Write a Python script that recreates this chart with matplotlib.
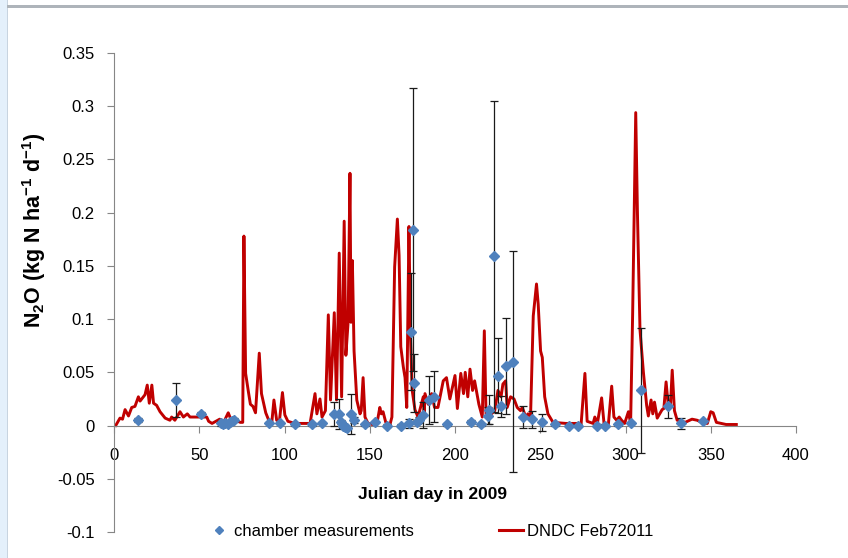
import matplotlib
matplotlib.use('Agg')
import matplotlib.pyplot as plt
from matplotlib.lines import Line2D
from matplotlib.patches import Rectangle

plt.rcParams['font.family'] = ['Liberation Sans', 'DejaVu Sans']
plt.rcParams['mathtext.fontset'] = 'custom'
plt.rcParams['mathtext.rm'] = 'Liberation Sans'
plt.rcParams['mathtext.bf'] = 'Liberation Sans:bold'

# DNDC model run (Julian day, kg N ha-1 d-1)
dndc_day = [1, 3.5, 5, 6.5, 8.5, 10.4, 12.3, 14.3, 15.3, 18.2, 19.5, 20.7, 22.2, 23.2, 25, 27, 30,
            32.8, 33.8, 35.7, 38.7, 40.7, 43, 44.6, 50, 54.4, 55.5, 57.5, 62, 64, 67, 69, 72, 74,
            75.5, 76.2, 77.2, 78.8, 80, 81.5, 83, 85.2, 86.5, 89, 91, 92.5, 93.8, 95.4, 97, 98.8,
            100.2, 102, 106, 110, 115, 117.9, 119, 120.8, 122, 124, 125.7, 127, 129.2, 130.5,
            132.1, 133.5, 135, 136, 137.3, 138.4, 139, 139.8, 140.8, 142.4, 144.3, 145, 146.1,
            147.2, 149, 154, 155.9, 156.8, 157.8, 159.4, 161.7, 163, 164.6, 166.2, 167.2, 168.2,
            169.7, 170.7, 171.7, 173, 173.9, 174.9, 176.5, 178.3, 181.4, 181.9, 182.4, 184.3,
            186.3, 188, 190, 193.1, 195, 197, 200, 201.4, 203.4, 205, 206, 207.5, 208.8, 210.3,
            211.5, 214, 216, 217.2, 218.2, 219.5, 223.3, 225.2, 227, 228.1, 229.7, 230.6, 232.6,
            234.6, 236.5, 238.4, 239.5, 241.5, 242.8, 244.3, 245.9, 247.8, 248.8, 250.2, 251.2,
            252.6, 254.5, 257.5, 265, 274, 276.2, 277.5, 281, 282, 283.5, 286, 287.4, 290, 291.9,
            293.2, 294.8, 296.3, 297.7, 299.5, 301.7, 303, 304.2, 306, 307, 308.5, 310.5, 312.4,
            313.4, 315, 316, 317, 318.6, 321.5, 322.5, 323.8, 325.2, 326.4, 327.4, 328.7, 330.3,
            335, 339, 342, 346, 348, 350, 351.4, 353.3, 359, 365]
dndc_n2o = [0.000, 0.007, 0.006, 0.015, 0.009, 0.017, 0.018, 0.027, 0.023, 0.029, 0.038, 0.021,
            0.038, 0.021, 0.019, 0.013, 0.007, 0.005, 0.008, 0.005, 0.013, 0.008, 0.011, 0.008,
            0.008, 0.008, 0.004, 0.002, 0.006, 0.002, 0.012, 0.004, 0.005, 0.003, 0.003, 0.178,
            0.049, 0.032, 0.020, 0.018, 0.012, 0.068, 0.030, 0.012, 0.004, 0.002, 0.024, 0.005,
            0.004, 0.031, 0.010, 0.004, 0.002, 0.002, 0.002, 0.030, 0.011, 0.025, 0.008, 0.014,
            0.104, 0.024, 0.106, 0.024, 0.162, 0.027, 0.192, 0.066, 0.097, 0.237, 0.097, 0.155,
            0.070, 0.024, 0.011, 0.014, 0.045, 0.008, 0.002, 0.000, 0.017, 0.011, 0.013, 0.003,
            0.000, 0.008, 0.149, 0.194, 0.160, 0.074, 0.055, 0.045, 0.017, 0.187, 0.083, 0.033,
            0.015, 0.008, 0.027, 0.010, 0.030, 0.020, 0.030, 0.017, 0.017, 0.042, 0.045, 0.025,
            0.047, 0.016, 0.049, 0.030, 0.050, 0.027, 0.053, 0.033, 0.042, 0.020, 0.008, 0.089,
            0.011, 0.008, 0.014, 0.033, 0.027, 0.039, 0.042, 0.017, 0.027, 0.025, 0.017, 0.014,
            0.017, 0.008, 0.011, 0.008, 0.103, 0.133, 0.114, 0.070, 0.064, 0.027, 0.011, 0.003,
            0.002, 0.002, 0.049, 0.004, 0.002, 0.008, 0.002, 0.026, 0.002, 0.002, 0.037, 0.008,
            0.005, 0.008, 0.005, 0.002, 0.013, 0.002, 0.106, 0.294, 0.200, 0.090, 0.050, 0.019,
            0.009, 0.024, 0.011, 0.022, 0.007, 0.015, 0.016, 0.041, 0.017, 0.020, 0.052, 0.014,
            0.005, 0.003, 0.006, 0.005, 0.002, 0.002, 0.013, 0.012, 0.003, 0.001, 0.001]

# chamber measurements with error bars
ch_day = [14.3, 36.3, 51, 62.5, 63.7, 65.3, 66.8, 68, 69, 70.5, 91, 97.3, 106, 116, 122.2, 129,
          132.1, 133.1, 134.3, 135.6, 136.6, 139.2, 140.9, 147.2, 153.2, 160.3, 168.1, 173,
          174.2, 175.6, 176.1, 177.6, 179, 181.2, 185, 187.9, 195.1, 209.2, 215, 219.2, 220, 223,
          225, 227, 229.9, 234, 240, 245.4, 251.2, 258.7, 267, 272.3, 283, 288, 295.4, 303.2,
          309.1, 325.1, 332.4, 345.3]
ch_n2o = [0.005, 0.024, 0.011, 0.002, 0.001, 0.002, 0.001, 0.003, 0.004, 0.005, 0.002, 0.002,
          0.001, 0.001, 0.002, 0.011, 0.011, 0.003, 0.000, -0.001, -0.002, 0.011, 0.005, 0.001,
          0.003, 0.000, 0.000, 0.002, 0.088, 0.184, 0.040, 0.003, 0.005, 0.010, 0.024, 0.027,
          0.001, 0.003, 0.001, 0.009, 0.015, 0.159, 0.047, 0.018, 0.056, 0.060, 0.008, 0.006,
          0.003, 0.001, 0.000, 0.000, 0.000, 0.000, 0.001, 0.002, 0.033, 0.018, 0.002, 0.004]
ch_err = [0.002, 0.016, 0.002, 0.002, 0.001, 0.001, 0.001, 0.002, 0.001, 0.002, 0.001, 0.001,
          0.001, 0.001, 0.001, 0.011, 0.014, 0.002, 0.002, 0.001, 0.001, 0.019, 0.003, 0.001,
          0.001, 0.001, 0.001, 0.004, 0.055, 0.133, 0.027, 0.002, 0.003, 0.012, 0.023, 0.024,
          0.001, 0.002, 0.001, 0.008, 0.014, 0.146, 0.035, 0.010, 0.045, 0.104, 0.010, 0.008,
          0.008, 0.001, 0.001, 0.001, 0.001, 0.001, 0.001, 0.001, 0.059, 0.011, 0.005, 0.001]

xticks = [0, 50, 100, 150, 200, 250, 300, 350, 400]
yticks = [0.35, 0.3, 0.25, 0.2, 0.15, 0.1, 0.05, 0, -0.05, -0.1]
ytick_labels = ['0.35', '0.3', '0.25', '0.2', '0.15', '0.1', '0.05', '0', '-0.05', '-0.1']

blue = '#4f81bd'
red = '#c00000'
axgray = '#868686'

fig = plt.figure(figsize=(8.48, 5.58), dpi=100)
W, H = 848, 558
# window-like frame bits
fig.patches.append(Rectangle((0, 0), 7 / W, 1, transform=fig.transFigure,
                             facecolor='#e4f0fb', edgecolor='none'))
fig.patches.append(Rectangle((7 / W, 0), 1.2 / W, 1, transform=fig.transFigure,
                             facecolor='#c8d4e0', edgecolor='none'))
fig.patches.append(Rectangle((7 / W, 1 - 7.5 / H), 1, 2.5 / H, transform=fig.transFigure,
                             facecolor='#aeb4ba', edgecolor='none'))

ax = fig.add_axes([114 / W, 1 - 532 / H, 682 / W, 479 / H])

ax.plot(dndc_day, dndc_n2o, color=red, lw=2.1, zorder=2)
ax.errorbar(ch_day, ch_n2o, yerr=ch_err, fmt='none', ecolor='#1a1a1a', elinewidth=0.9,
            capsize=2.6, capthick=0.9, zorder=3)
ax.plot(ch_day, ch_n2o, ls='none', marker='D', ms=5, color=blue, mec=blue, zorder=4)

ax.set_xlim(0, 400)
ax.set_ylim(-0.1, 0.35)
ax.set_xticks(xticks)
ax.set_yticks(yticks)
ax.set_yticklabels(ytick_labels)

for s in ['top', 'right']:
    ax.spines[s].set_visible(False)
ax.spines['bottom'].set_position(('data', 0))
ax.spines['bottom'].set_color(axgray)
ax.spines['left'].set_color(axgray)
ax.tick_params(axis='x', direction='out', length=5, color=axgray, pad=11, labelsize=12)
ax.tick_params(axis='y', direction='out', length=5, color=axgray, pad=9, labelsize=12)

ax.set_xlabel('Julian day in 2009', fontsize=12.5, fontweight='bold')
ax.xaxis.set_label_coords((433 - 114) / 682, (532 - 494) / 479)
ax.xaxis.label.set_va('center')
ax.set_ylabel(r'N$_\mathbf{2}$O (kg N ha$^\mathbf{-1}$ d$^\mathbf{-1}$)',
              fontsize=15.5, fontweight='bold')
ax.yaxis.set_label_coords((34 - 114) / 682, (532 - 230) / 479)
ax.yaxis.label.set_va('center')

handles = [Line2D([], [], ls='none', marker='D', ms=4, color=blue),
           Line2D([], [], color=red, lw=2.2)]
ax.legend(handles, ['chamber measurements', 'DNDC Feb72011'], ncol=2,
          loc='center left', bbox_to_anchor=(207 / W, 1 - 531 / H),
          bbox_transform=fig.transFigure, frameon=False, fontsize=12,
          handlelength=1.4, handletextpad=0.25, columnspacing=5.1,
          borderpad=0, borderaxespad=0)

fig.savefig('out.png', dpi=100)
